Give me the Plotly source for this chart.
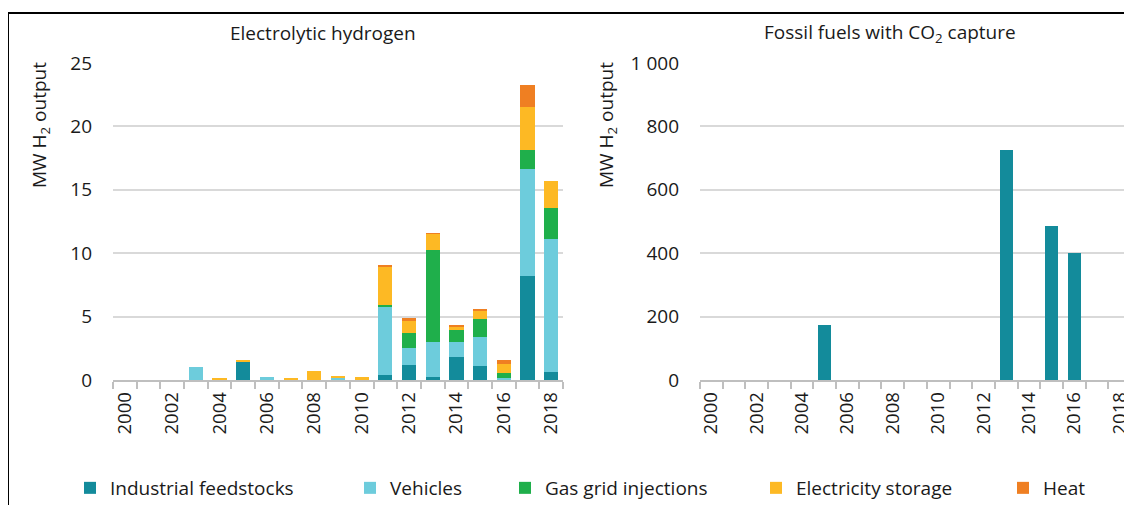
import plotly.graph_objects as go

W, H = 1132, 505
OFF = 8  # page body margin compensation

years = list(range(2000, 2019))
industrial = [0, 0, 0, 0, 0, 1.45, 0, 0, 0, 0, 0, 0.37, 1.18, 0.26, 1.84, 1.10, 0, 8.20, 0.66]
vehicles = [0, 0, 0, 1.03, 0, 0, 0.21, 0, 0, 0.20, 0, 5.36, 1.32, 2.76, 1.13, 2.27, 0.13, 8.42, 10.44]
gas_grid = [0, 0, 0, 0, 0, 0, 0, 0, 0, 0, 0, 0.20, 1.21, 7.23, 1.00, 1.47, 0.40, 1.49, 2.44]
elec_storage = [0, 0, 0, 0, 0.10, 0.10, 0, 0.15, 0.68, 0.14, 0.24, 3.00, 0.94, 1.27, 0.23, 0.68, 0.73, 3.42, 2.18]
heat = [0, 0, 0, 0, 0, 0, 0, 0, 0, 0, 0, 0.10, 0.21, 0.05, 0.10, 0.05, 0.32, 1.71, 0]
fossil_ccs = [0, 0, 0, 0, 0, 175, 0, 0, 0, 0, 0, 0, 0, 725, 0, 485, 400, 0, 0]

series_names = ["Industrial feedstocks", "Vehicles", "Gas grid injections", "Electricity storage", "Heat"]
series_values = [industrial, vehicles, gas_grid, elec_storage, heat]
colors = ["#138B9B", "#6DCCDC", "#1FAF4B", "#FDB924", "#EF7F22"]

left_ticks = [0, 5, 10, 15, 20, 25]
right_tickvals = [0, 200, 400, 600, 800, 1000]
right_ticktext = ["0", "200", "400", "600", "800", "1 000"]

FONT = "Open Sans"
TXT = "#1a1a1a"
GRID = "#D9D9D9"
AXIS = "#BFBFBF"

def px(x):
    return (x - OFF) / W

def py(y):
    return 1 - (y - OFF) / H

fig = go.Figure()

legend_keys = ["legend", "legend2", "legend3", "legend4", "legend5"]
for name, vals, col, lk in zip(series_names, series_values, colors, legend_keys):
    fig.add_trace(go.Bar(x=years, y=vals, name=name, marker=dict(color=col, line=dict(width=0)),
                         width=0.6, xaxis="x", yaxis="y", legend=lk))

fig.add_trace(go.Bar(x=years, y=fossil_ccs, name="Industrial feedstocks", showlegend=False,
                     marker=dict(color=colors[0], line=dict(width=0)), width=0.57,
                     xaxis="x2", yaxis="y2"))

ytop, ybot = 63, 380
xaxis_common = dict(
    range=[1999.5, 2018.5], tick0=2000, dtick=2, tickangle=-90, ticks="", showgrid=False,
    showline=True, linecolor=AXIS, linewidth=1.5, zeroline=False, tickformat="d",
    tickfont=dict(family=FONT, size=18.5, color=TXT), ticklabelstandoff=3, automargin=False,
    minor=dict(ticks="outside", ticklen=7, tickcolor=AXIS, tickwidth=1.5, tick0=1999.5, dtick=1, showgrid=False),
)
yaxis_common = dict(
    showgrid=True, gridcolor=GRID, gridwidth=1.5, zeroline=False, showline=False, ticks="",
    tickfont=dict(family=FONT, size=19, color=TXT), automargin=False, tickmode="array",
)

fig.update_layout(
    width=W, height=H, margin=dict(l=0, r=0, t=0, b=0, autoexpand=False),
    paper_bgcolor="white", plot_bgcolor="white",
    barmode="stack",
    font=dict(family=FONT, color=TXT),
    xaxis=dict(domain=[px(113), px(563)], anchor="y", **xaxis_common),
    yaxis=dict(domain=[py(ybot), py(ytop)], range=[0, 25], anchor="x",
               tickvals=left_ticks, ticktext=[str(v) for v in left_ticks],
               ticklabelstandoff=20, **yaxis_common),
    xaxis2=dict(domain=[px(700), px(1131)], anchor="y2", **xaxis_common),
    yaxis2=dict(domain=[py(ybot), py(ytop)], range=[0, 1000], anchor="x2",
                tickvals=right_tickvals, ticktext=right_ticktext,
                ticklabelstandoff=20, **yaxis_common),
)

leg_x = [92, 372, 527, 778, 1025]
for lk, x0 in zip(legend_keys, leg_x):
    fig.layout[lk] = dict(x=px(x0 - 22), y=py(488), xanchor="left", yanchor="middle",
                          orientation="h", bgcolor="rgba(0,0,0,0)",
                          font=dict(family=FONT, size=19, color=TXT), itemwidth=30)

ann_font = dict(family=FONT, size=19, color=TXT)
fig.add_annotation(text="Electrolytic hydrogen", x=px(323), y=py(33), xref="paper", yref="paper",
                   showarrow=False, xanchor="center", yanchor="middle", font=ann_font)
fig.add_annotation(text="Fossil fuels with CO<sub>2</sub> capture", x=px(890), y=py(33), xref="paper", yref="paper",
                   showarrow=False, xanchor="center", yanchor="middle", font=ann_font)
for xc in (40, 607):
    fig.add_annotation(text="MW H<sub>2</sub> output", x=px(xc), y=py(125), xref="paper", yref="paper",
                       showarrow=False, textangle=-90, xanchor="center", yanchor="middle", font=ann_font)

# frame lines (top and left)
fig.add_shape(type="line", xref="paper", yref="paper", x0=px(8), x1=1, y0=py(13), y1=py(13),
              line=dict(color="black", width=2))
fig.add_shape(type="line", xref="paper", yref="paper", x0=px(8), x1=px(8), y0=py(13), y1=0,
              line=dict(color="black", width=2))

fig.write_html("out.html")
